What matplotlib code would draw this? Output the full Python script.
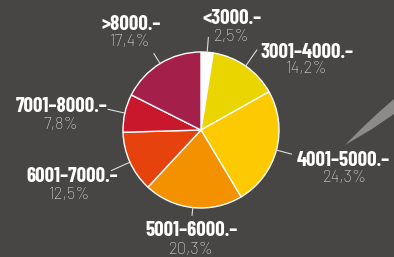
import numpy as np
import matplotlib.pyplot as plt
from matplotlib.patches import Polygon

# data
labels = ["<3000.\u2013", "3001\u20134000.\u2013", "4001\u20135000.\u2013", "5001\u20136000.\u2013",
          "6001\u20137000.\u2013", "7001\u20138000.\u2013", ">8000.\u2013"]
shares = [2.5, 14.2, 24.3, 20.3, 12.5, 7.8, 17.4]
pct_text = ["2,5%", "14,2%", "24,3%", "20,3%", "12,5%", "7,8%", "17,4%"]
colors = ["#ffffff", "#ead500", "#fdc900", "#f39100", "#e5420e", "#c9172c", "#a41f4a"]

bg = "#484644"
W, H = 394, 257
cx, cy, R = 201, H - 130, 78

# label layout in pixels (x, y from top)
name_pos = [(232, 19), (307, 52), (343, 161), (192, 230), (72, 177), (62, 107), (131, 24)]
pct_pos = [(232, 37), (307, 69), (345, 178), (191, 250), (70, 195), (61, 125), (130, 42)]
lead_len = [1.19, 1.25, 1.2, 1.1, 1.26, 1.22, 1.15]

fig = plt.figure(figsize=(W / 100, H / 100), dpi=100, facecolor=bg)
ax = fig.add_axes([0, 0, 1, 1])

# gray tail on the right
tail = Polygon([(345, H - 145), (362, H - 128), (378, H - 113), (394, H - 99),
                (394, H - 114), (372, H - 129)], closed=True, fc="#8c8b8a", ec="none")
ax.add_patch(tail)

wedges, _ = ax.pie(shares, colors=colors, startangle=90, counterclock=False,
                   center=(cx, cy), radius=R, frame=True,
                   wedgeprops=dict(edgecolor="white", linewidth=1))
ax.set_xlim(0, W)
ax.set_ylim(0, H)
ax.set_aspect("equal")
ax.axis("off")

for w, L in zip(wedges, lead_len):
    a = np.deg2rad((w.theta1 + w.theta2) / 2)
    ax.plot([cx + R * np.cos(a), cx + R * L * np.cos(a)],
            [cy + R * np.sin(a), cy + R * L * np.sin(a)], color="#dddddd", lw=0.8)

for lab, p, (nx, ny), (px, py) in zip(labels, pct_text, name_pos, pct_pos):
    ax.text(nx, H - ny, lab, ha="center", va="center", color="white", fontsize=15,
            fontweight="bold", family=["Barlow Condensed", "DejaVu Sans"])
    ax.text(px, H - py, p, ha="center", va="center", color="#e4e4e4", fontsize=12,
            fontweight="light", family=["Barlow", "DejaVu Sans"])

fig.savefig("out.png", dpi=100, facecolor=bg)
